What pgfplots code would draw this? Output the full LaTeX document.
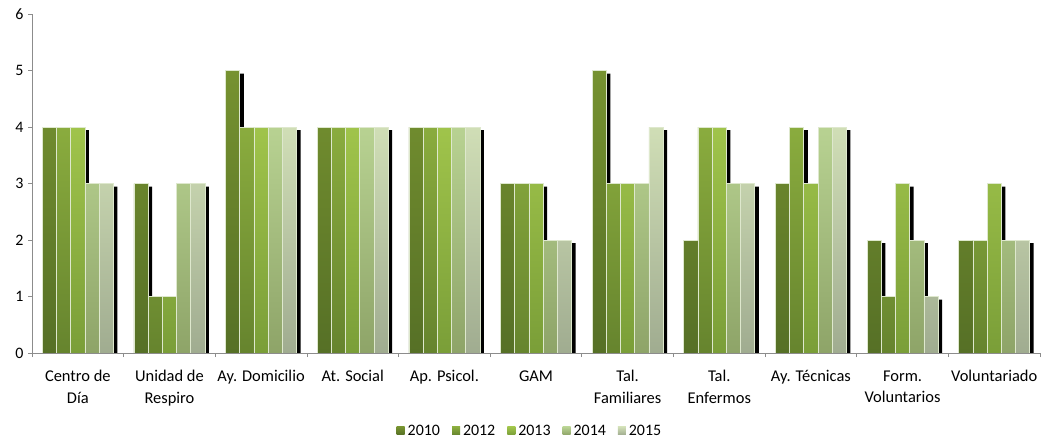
\documentclass[border=0pt]{standalone}
\usepackage{fontspec}
\setmainfont{Carlito}
\usepackage{pgfplots}
\pgfplotsset{compat=1.18}
\usepackage{pgfplotstable}

\definecolor{tA}{RGB}{118,146,48}\definecolor{bA}{RGB}{86,112,38}
\definecolor{tB}{RGB}{138,172,62}\definecolor{bB}{RGB}{102,132,46}
\definecolor{tC}{RGB}{160,196,75}\definecolor{bC}{RGB}{122,158,56}
\definecolor{tD}{RGB}{184,210,146}\definecolor{bD}{RGB}{142,164,104}
\definecolor{tE}{RGB}{208,222,182}\definecolor{bE}{RGB}{160,172,144}
\definecolor{edge}{RGB}{222,232,205}
\definecolor{axgray}{RGB}{140,140,140}

\pgfplotstableread{
x a b c d e
0 4 4 4 3 3
1 3 1 1 3 3
2 5 4 4 4 4
3 4 4 4 4 4
4 4 4 4 4 4
5 3 3 3 2 2
6 5 3 3 3 4
7 2 4 4 3 3
8 3 4 3 4 4
9 2 1 3 2 1
10 2 2 3 2 2
}\data

\pgfplotsset{
  mybar/.style={ybar, bar width=14.2bp, draw=edge, line width=0.7bp,
    legend image code/.code={\path[##1, draw=none] (0bp,-4bp) rectangle (8bp,4bp);}},
  myshadow/.style={ybar, bar width=14.2bp, fill=black, draw=none, yshift=-3bp, forget plot}
}

\begin{document}
\begin{tikzpicture}
\useasboundingbox (0,0) rectangle (1043bp,441bp);
\begin{axis}[
  at={(32bp,88bp)}, anchor=south west, scale only axis,
  width=1008bp, height=339bp,
  xmin=-0.5, xmax=10.5, ymin=0, ymax=6,
  axis x line*=bottom, axis y line*=left,
  axis line style={draw=axgray, line width=1bp, -},
  tick align=outside,
  /pgf/number format/assume math mode=true,
  ytick={0,1,2,3,4,5,6},
  major tick length=4bp,
  major y tick style={draw=axgray, line width=0.8bp},
  xtick={0,1,2,3,4,5,6,7,8,9,10},
  major x tick style={draw=none},
  minor xtick={-0.5,0.5,1.5,2.5,3.5,4.5,5.5,6.5,7.5,8.5,9.5,10.5},
  minor tick length=4bp,
  minor x tick style={draw=axgray, line width=0.8bp},
  xticklabels={{Centro de\\Día},{Unidad de\\Respiro},{Ay. Domicilio},{At. Social},{Ap. Psicol.},{GAM},{Tal.\\Familiares},{Tal.\\Enfermos},{Ay. Técnicas},{Form.\\Voluntarios},{Voluntariado}},
  xticklabel style={align=center, font=\fontsize{16.5}{22}\selectfont, yshift=-10bp},
  yticklabel style={font=\fontsize{16}{18}\selectfont, xshift=-1bp},
  legend style={at={(0.494,-0.23)}, anchor=center, legend columns=-1, draw=none,
    font=\fontsize{16}{18}\selectfont,
    /tikz/every odd column/.append style={column sep=1bp},
    /tikz/every even column/.append style={column sep=10bp}},
]
\addplot[myshadow, bar shift=-24.4bp] table[x=x,y=a]{\data};
\addplot[myshadow, bar shift=-10.2bp] table[x=x,y=b]{\data};
\addplot[myshadow, bar shift=4bp] table[x=x,y=c]{\data};
\addplot[myshadow, bar shift=18.2bp] table[x=x,y=d]{\data};
\addplot[myshadow, bar shift=32.4bp] table[x=x,y=e]{\data};

\addplot[mybar, bar shift=-28.4bp, shading=axis, top color=tA, bottom color=bA] table[x=x,y=a]{\data};
\addplot[mybar, bar shift=-14.2bp, shading=axis, top color=tB, bottom color=bB] table[x=x,y=b]{\data};
\addplot[mybar, bar shift=0bp, shading=axis, top color=tC, bottom color=bC] table[x=x,y=c]{\data};
\addplot[mybar, bar shift=14.2bp, shading=axis, top color=tD, bottom color=bD] table[x=x,y=d]{\data};
\addplot[mybar, bar shift=28.4bp, shading=axis, top color=tE, bottom color=bE] table[x=x,y=e]{\data};
\legend{2010,2012,2013,2014,2015}
\end{axis}
\end{tikzpicture}
\end{document}
